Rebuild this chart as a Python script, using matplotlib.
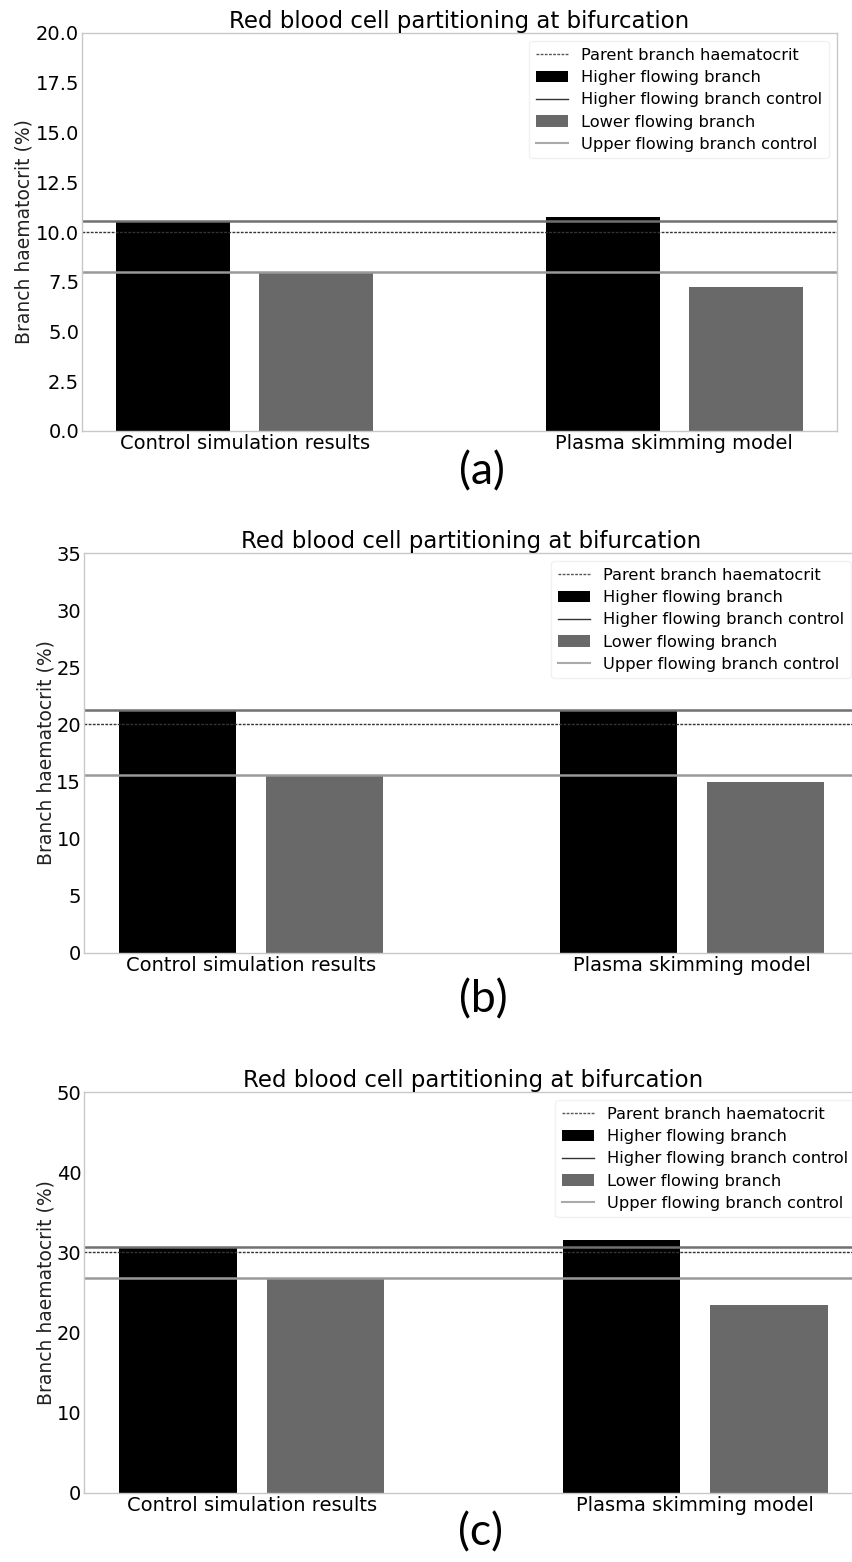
import numpy as np
import matplotlib
matplotlib.use("Agg")
import matplotlib.pyplot as plt

plt.rcParams['font.family'] = ['DejaVu Sans']

categories = ['Control simulation results', 'Plasma skimming model']
legend_labels = ['Parent branch haematocrit', 'Higher flowing branch',
                 'Higher flowing branch control', 'Lower flowing branch',
                 'Upper flowing branch control']
panel_tags = ['(a)', '(b)', '(c)']

higher_a = [10.55, 10.75]
lower_a = [8.0, 7.25]
parent_a = 10.0
higher_ctrl_a = 10.55
lower_ctrl_a = 8.0
yticks_a = [0.0, 2.5, 5.0, 7.5, 10.0, 12.5, 15.0, 17.5, 20.0]

higher_b = [21.3, 21.25]
lower_b = [15.55, 15.0]
parent_b = 20.0
higher_ctrl_b = 21.3
lower_ctrl_b = 15.55
yticks_b = [0, 5, 10, 15, 20, 25, 30, 35]

higher_c = [30.7, 31.5]
lower_c = [26.8, 23.4]
parent_c = 30.0
higher_ctrl_c = 30.7
lower_ctrl_c = 26.8
yticks_c = [0, 10, 20, 30, 40, 50]

W, H = 852, 1562
fig = plt.figure(figsize=(W / 100, H / 100), dpi=100)


def px_axes(left, right, top, bottom):
    return fig.add_axes([left / W, 1 - bottom / H, (right - left) / W, (bottom - top) / H])


panels = [
    dict(box=(82, 837, 33, 431), hi=higher_a, lo=lower_a, par=parent_a, hc=higher_ctrl_a,
         lc=lower_ctrl_a, yt=yticks_a, fmt='{:.1f}', ylab_x=24, tag_xy=(482, 472)),
    dict(box=(84, 859, 553, 953), hi=higher_b, lo=lower_b, par=parent_b, hc=higher_ctrl_b,
         lc=lower_ctrl_b, yt=yticks_b, fmt='{:d}', ylab_x=46, tag_xy=(483, 1000)),
    dict(box=(84, 863, 1092, 1493), hi=higher_c, lo=lower_c, par=parent_c, hc=higher_ctrl_c,
         lc=lower_ctrl_c, yt=yticks_c, fmt='{:d}', ylab_x=46, tag_xy=(480, 1533)),
]

x = np.arange(len(categories))
width = 0.265
off = 0.166
spine_col = '#c8c8c8'

for p, tag in zip(panels, panel_tags):
    l, r, t, b = p['box']
    ax = px_axes(l, r, t, b)
    ax.axhline(p['par'], color='#333333', linestyle=(0, (2, 1.0)), linewidth=1.0)
    b1 = ax.bar(x - off, p['hi'], width, color='black')
    ax.axhline(p['hc'], color='#707070', linewidth=1.8)
    b2 = ax.bar(x + off, p['lo'], width, color='#696969')
    ax.axhline(p['lc'], color='#999999', linewidth=1.8)
    ax.set_ylim(p['yt'][0], p['yt'][-1])
    ax.set_yticks(p['yt'])
    ax.set_yticklabels([p['fmt'].format(v) for v in p['yt']], fontsize=14)
    ax.set_xticks(x)
    ax.set_xticklabels(categories, fontsize=14)
    ax.tick_params(length=0, pad=2)
    for s in ax.spines.values():
        s.set_color(spine_col)
        s.set_linewidth(1.0)
    ax.set_title('Red blood cell partitioning at bifurcation', fontsize=16.5, pad=1)
    leg_par = plt.Line2D([], [], color='#555555', linestyle=(0, (2, 1.0)), linewidth=1.0)
    leg_hc = plt.Line2D([], [], color='#333333', linewidth=1.0)
    leg_lc = plt.Line2D([], [], color='#aaaaaa', linewidth=1.5)
    ax.legend([leg_par, b1, leg_hc, b2, leg_lc], legend_labels, loc='upper right',
              fontsize=11.7, frameon=True, framealpha=0.8, edgecolor='#eeeeee',
              borderaxespad=0.5, labelspacing=0.45)
    fig.text(p['ylab_x'] / W, 1 - ((t + b) / 2) / H, 'Branch haematocrit (%)',
             rotation=90, ha='center', va='center', fontsize=13.5, color='#222222')
    fig.text(p['tag_xy'][0] / W, 1 - p['tag_xy'][1] / H, tag, ha='center', va='center',
             fontsize=32, family=['Lato', 'DejaVu Sans'])

fig.savefig('out.png', dpi=100)
